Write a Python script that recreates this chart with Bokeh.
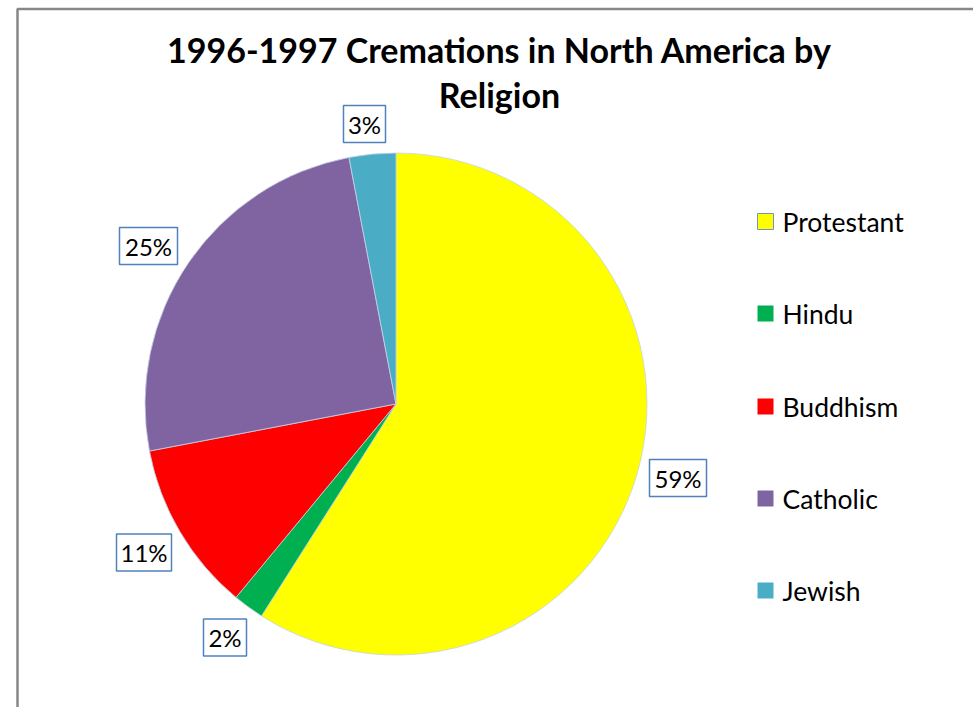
from math import pi
from bokeh.plotting import figure
from bokeh.models import Range1d, ColumnDataSource
from bokeh.core.properties import value
from bokeh.embed import file_html
from bokeh.resources import INLINE

# ---- data ----
categories = ["Protestant", "Hindu", "Buddhism", "Catholic", "Jewish"]
percents = [59, 2, 11, 25, 3]
colors = ["#FFFF00", "#00B050", "#FF0000", "#8064A2", "#4BACC6"]
label_texts = ["59%", "2%", "11%", "25%", "3%"]
title_lines = ["1996-1997 Cremations in North America by", "Religion"]

FONT = "Lato"
W, H = 973, 707


def Y(py):
    # page y (pixels from window top) -> data y
    return H - py


p = figure(width=W, height=H, output_backend="svg", toolbar_location=None,
           x_range=Range1d(0, W), y_range=Range1d(0, H),
           min_border=0, outline_line_color=None)
p.axis.visible = False
p.grid.visible = False
p.background_fill_color = "white"
p.border_fill_color = "white"

# chart-area border (left and top visible)
p.line(x=[17, 17, 990], y=[Y(720), Y(8.5), Y(8.5)], line_color="#878787", line_width=2.5)

# ---- pie ----
cx, cy, r = 395.5, Y(403.5), 251
total = sum(percents)
starts, ends = [], []
acc = 0.0
for v in percents:
    a0 = pi / 2 - 2 * pi * acc / total
    acc += v
    a1 = pi / 2 - 2 * pi * acc / total
    starts.append(a0)
    ends.append(a1)

src = ColumnDataSource(dict(start=starts, end=ends, color=colors, cat=categories))
p.wedge(x=cx, y=cy, radius=r, start_angle="start", end_angle="end", direction="clock",
        fill_color="color", line_color="#c5d3e6", line_width=0.8, source=src)

# ---- data labels (boxed) ----
label_x = [677.5, 224.5, 143.5, 148, 364]
label_y = [Y(477.5), Y(637), Y(552), Y(245.5), Y(123.5)]
label_w = [57, 43, 55, 58, 42]
label_h = 37
p.rect(x=label_x, y=label_y, width=label_w, height=label_h, fill_color="white",
       line_color="#4F81BD", line_width=1.5)
p.text(x=label_x, y=label_y, text=label_texts, text_align="center", text_baseline="middle",
       text_font=value(FONT), text_font_size="24px", text_color="black")

# ---- legend ----
leg_y = [Y(221), Y(313), Y(406), Y(498), Y(590)]
leg_x = [765] * 5
p.rect(x=leg_x, y=leg_y, width=16, height=16, fill_color=colors,
       line_color=["#6f95c8", None, None, None, None], line_width=1)
p.text(x=[782] * 5, y=leg_y, text=categories, text_align="left", text_baseline="middle",
       text_font=value(FONT), text_font_size="26.5px", text_color="black")

# ---- title ----
p.text(x=[499, 499], y=[Y(49), Y(94)], text=title_lines, text_align="center",
       text_baseline="middle", text_font=value(FONT), text_font_style="bold",
       text_font_size="34px", text_color="black")

open("out.html", "w").write(file_html(p, INLINE))
